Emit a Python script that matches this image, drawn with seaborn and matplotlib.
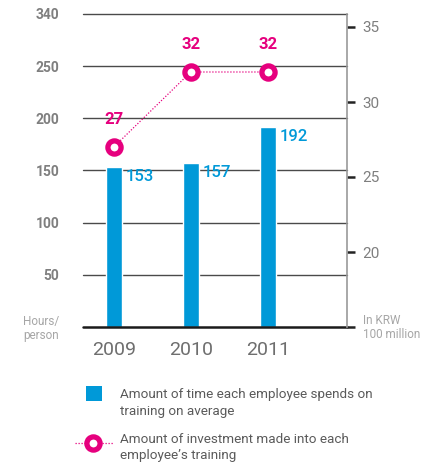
import numpy as np
import pandas as pd
import matplotlib
matplotlib.use("Agg")
import matplotlib.pyplot as plt
import seaborn as sns
from matplotlib.patches import Rectangle
from matplotlib.lines import Line2D

# ---- data ----
years = ["2009", "2010", "2011"]
hours_per_person = [153, 157, 192]          # left axis, bars
investment = [27, 32, 32]                   # right axis, line (KRW 100 million)
left_ticks = [50, 100, 150, 200, 250, 300]
left_tick_labels = ["50", "100", "150", "200", "250", "340"]
right_ticks = [15, 20, 25, 30, 35]
right_tick_labels = ["", "20", "25", "30", "35"]
legend_labels = [
    ("Amount of time each employee spends on", "training on average"),
    ("Amount of investment made into each", "employee\u2019s training"),
]

BLUE = "#0099d8"
PINK = "#e6007e"
GRAY = "#7f7f7f"
LIGHT = "#a6a6a6"

sns.set_theme(style="white")
plt.rcParams["font.family"] = ["Roboto", "DejaVu Sans"]

W, H = 424, 466
fig = plt.figure(figsize=(W / 100, H / 100), dpi=100)


def fx(x):
    return x / W


def fy(y):
    return 1 - y / H


ax = fig.add_axes([fx(83), fy(327), (347 - 83) / W, (327 - 14) / H])

df = pd.DataFrame({"year": years, "hours": hours_per_person})
sns.barplot(data=df, x="year", y="hours", color=BLUE, saturation=1,
            width=0.21, ax=ax, zorder=3)

ax.set_ylim(0, 300)
ax.set_xlim(-0.40, 3.03)
for v in left_ticks:
    ax.axhline(v, color="#4a4a4a", lw=1.0, zorder=1, clip_on=False)
ax.axhline(0, color="#1a1a1a", lw=1.8, zorder=4, clip_on=False)
for s in ax.spines.values():
    s.set_visible(False)

ax.set_yticks(left_ticks, left_tick_labels)
ax.tick_params(axis="y", length=0, pad=17, labelsize=10, labelcolor=GRAY)
for lbl in ax.get_yticklabels():
    lbl.set_fontweight("bold")
ax.tick_params(axis="x", length=0, pad=10, labelsize=14, labelcolor="#6e6e6e")
ax.set_xlabel("")
ax.set_ylabel("")

# bar value labels
bar_half = 0.105
for i, v in enumerate(hours_per_person):
    ax.annotate(str(v), xy=(i + bar_half, v), xytext=(3, -1.5),
                textcoords="offset points", ha="left", va="top",
                color=BLUE, fontsize=12, fontweight=500, zorder=5)

# investment line on the secondary axis
ax2 = ax.twinx()
ax2.set_ylim(15, 15 + 313 / 15)
pos = np.arange(len(years))
sns.lineplot(x=pos, y=investment, ax=ax2, color=PINK, lw=0.9,
             linestyle=(0, (1, 1.4)), marker="o", markersize=9.5,
             markerfacecolor="white", markeredgecolor=PINK,
             markeredgewidth=3.8, zorder=6)
ax2.set_xlim(-0.40, 3.03)
for i, v in enumerate(investment):
    ax2.annotate(str(v), xy=(i, v), xytext=(0, 20), textcoords="offset points",
                 ha="center", va="center", color=PINK, fontsize=12,
                 fontweight="bold")

for name, s in ax2.spines.items():
    s.set_visible(name == "right")
ax2.spines["right"].set_color("#9a9a9a")
ax2.spines["right"].set_linewidth(1.2)
ax2.set_yticks(right_ticks, right_tick_labels)
ax2.tick_params(axis="y", right=True, direction="out", length=6, width=1.8,
                color="#222222", pad=5, labelsize=11, labelcolor=GRAY)
ax2.set_ylabel("")
ax2.set_xlabel("")

# unit captions
fig.text(fx(59), fy(322), "Hours/", ha="right", va="center",
         fontsize=8.5, color=LIGHT)
fig.text(fx(59), fy(335), "person", ha="right", va="center",
         fontsize=8.5, color=LIGHT)
fig.text(fx(363), fy(321), "In KRW", ha="left", va="center",
         fontsize=8.5, color=LIGHT)
fig.text(fx(363), fy(334), "100 million", ha="left", va="center",
         fontsize=8.5, color=LIGHT)

# legend
fig.add_artist(Rectangle((fx(86), fy(401)), 16 / W, 15 / H,
                         transform=fig.transFigure, color=BLUE, lw=0))
fig.add_artist(Line2D([fx(75), fx(113)], [fy(443), fy(443)],
                      transform=fig.transFigure, color=PINK, lw=0.9,
                      linestyle=(0, (1, 1.4))))
fig.add_artist(Line2D([fx(93)], [fy(443)], transform=fig.transFigure,
                      marker="o", markersize=9.5, markerfacecolor="white",
                      markeredgecolor=PINK, markeredgewidth=3.8, lw=0))
baselines = [(398, 415), (443, 459)]
for (l1, l2), (b1, b2) in zip(legend_labels, baselines):
    fig.text(fx(120), fy(b1), l1, ha="left", va="baseline",
             fontsize=9.7, color="#5a5a5a")
    fig.text(fx(120), fy(b2), l2, ha="left", va="baseline",
             fontsize=9.7, color="#5a5a5a")

fig.savefig("out.png", dpi=100)
